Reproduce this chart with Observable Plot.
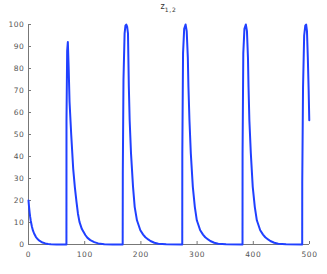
<!DOCTYPE html>
<html>
<head>
<meta charset="utf-8">
<script src="https://cdn.jsdelivr.net/npm/d3@7"></script>
<script src="https://cdn.jsdelivr.net/npm/@observablehq/plot@0.6"></script>
<style>
  html, body { margin: 0; padding: 0; background: #fff; }
  #wrap { position: relative; width: 327px; height: 274px; }
  #title { position: absolute; left: 0; width: 337px; top: 2px; text-align: center;
           font-family: "DejaVu Sans", sans-serif; font-size: 8px; color: #333; }
  #title sub { font-size: 6px; letter-spacing: 0.8px; }
</style>
</head>
<body>
<div id="wrap"><div id="title">z<sub>1,2</sub></div></div>
<script>
const titleText = "z_{1,2}";
const t = [
  0, 1, 2, 3, 4, 6, 8, 10, 13, 16, 20, 25, 30, 35, 40, 50, 60, 67.5,
  67.6, 68.8, 70, 71.5, 73, 76, 79.5, 82.5, 85.4, 88, 90.7, 95, 101.4, 105, 110, 117, 124, 135, 150, 167.6,
  167.8, 169, 171, 172.5, 174, 175.5, 177, 178.5, 180, 182.4, 186, 189, 193, 199, 204, 208, 213, 217, 224, 231, 245, 273.6,
  273.7, 275, 277, 279.5, 281.5, 283.5, 284.6, 286.4, 288.8, 292.4, 296, 299.5, 305.5, 310.5, 314.5, 319.5, 323.5, 330.5, 337.5, 351.5, 380.8,
  380.9, 382.2, 384.2, 386.7, 388.7, 390.5, 391.5, 393, 395.6, 399, 402.7, 406.3, 412.3, 417.3, 421.3, 426.3, 430.3, 437.3, 444.3, 458.3, 487,
  487.1, 488.5, 490.5, 492.5, 494, 495.5, 497, 498.5, 499.6
];
const z = [
  20, 17, 14.5, 12.5, 10.8, 8.2, 6.3, 5.0, 3.5, 2.5, 1.6, 0.9, 0.5, 0.25, 0.12, 0.03, 0.01, 0,
  56, 88, 92, 80, 65, 50, 34.5, 26, 19.4, 14, 10.3, 7, 4.2, 3, 2, 1.1, 0.5, 0.15, 0.03, 0,
  32, 75, 96, 99.5, 100, 99, 96, 72, 56.5, 41.5, 26.2, 17, 11, 6.5, 4.5, 3.3, 2.3, 1.6, 0.8, 0.35, 0.08, 0,
  41.5, 87, 98, 100, 97, 85, 71.6, 56.5, 41.5, 26.2, 17, 11, 6.5, 4.5, 3.3, 2.3, 1.6, 0.8, 0.35, 0.08, 0,
  41.5, 87, 98, 100, 97, 85, 71.6, 56.5, 41.5, 26.2, 17, 11, 6.5, 4.5, 3.3, 2.3, 1.6, 0.8, 0.35, 0.08, 0,
  28, 71.6, 95, 99.5, 100, 97, 85, 70, 56.5
];
const xTicks = [0, 100, 200, 300, 400, 500];
const yTicks = [0, 10, 20, 30, 40, 50, 60, 70, 80, 90, 100];

const data = t.map((d, i) => ({t: d, z: z[i]}));

const chart = Plot.plot({
  width: 327,
  height: 274,
  marginLeft: 28,
  marginRight: 18,
  marginTop: 24,
  marginBottom: 30,
  style: {fontFamily: "DejaVu Sans, sans-serif", fontSize: "7.5px", color: "#555", background: "#fff"},
  x: {domain: [0, 500], ticks: xTicks},
  y: {domain: [0, 100], ticks: yTicks},
  marks: [
    Plot.ruleY([0], {stroke: "#777", strokeWidth: 1}),
    Plot.ruleX([0], {stroke: "#777", strokeWidth: 1}),
    Plot.axisX({ticks: xTicks, tickSize: -3, tickPadding: 10, stroke: "#777", fill: "#555", label: null, tickFormat: d => String(d)}),
    Plot.axisY({ticks: yTicks, tickSize: -3, tickPadding: 7, stroke: "#777", fill: "#555", label: null, tickFormat: d => String(d)}),
    Plot.line(data, {x: "t", y: "z", stroke: "#2040ff", strokeWidth: 2, curve: "linear"})
  ]
});
chart.style.letterSpacing = "0.6px";
document.getElementById("wrap").appendChild(chart);
</script>
</body>
</html>
